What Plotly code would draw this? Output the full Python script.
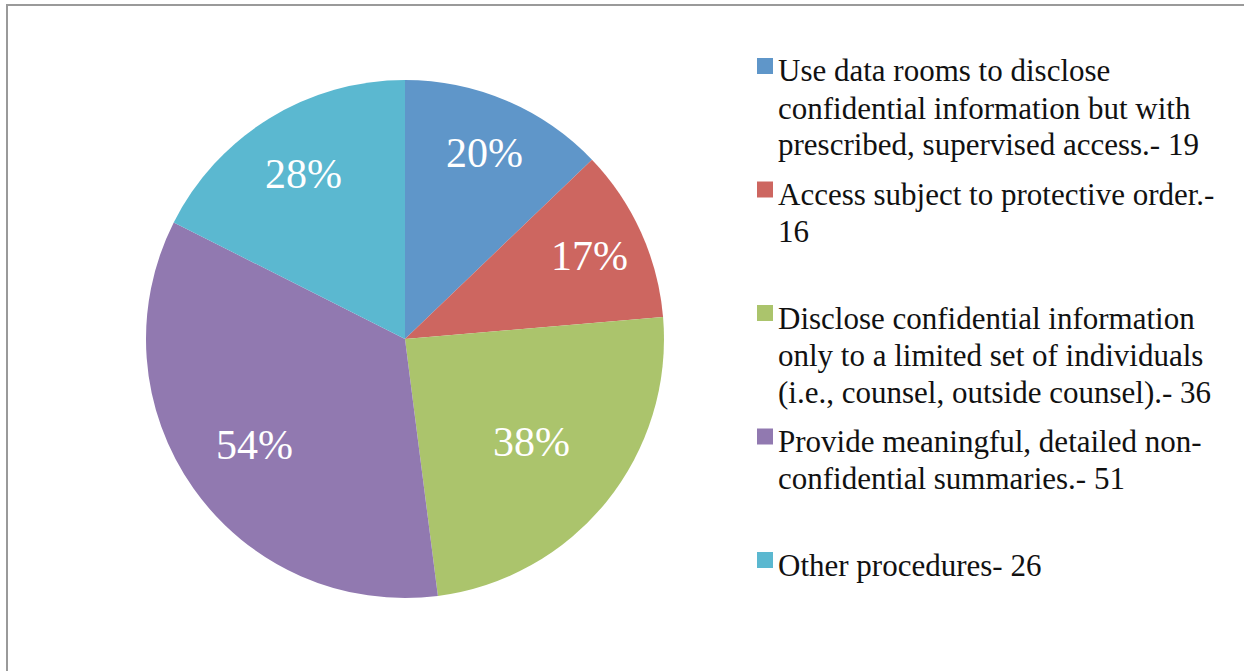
import math
import plotly.graph_objects as go

# ---- data ----
categories = [
    "Use data rooms to disclose confidential information but with prescribed, supervised access.",
    "Access subject to protective order.",
    "Disclose confidential information only to a limited set of individuals (i.e., counsel, outside counsel).",
    "Provide meaningful, detailed non-confidential summaries.",
    "Other procedures",
]
counts = [19, 16, 36, 51, 26]
pct_labels = ["20%", "17%", "38%", "54%", "28%"]
legend_lines = [
    ["Use data rooms to disclose", "confidential information but with", "prescribed, supervised access.- 19"],
    ["Access subject to protective order.-", "16"],
    ["Disclose confidential information", "only to a limited set of individuals", "(i.e., counsel, outside counsel).- 36"],
    ["Provide meaningful, detailed non-", "confidential summaries.- 51"],
    ["Other procedures- 26"],
]
colors = ["#5F96C9", "#CD6660", "#ABC46C", "#9179B0", "#5BB8D0"]

# label placement (style): radial fraction of the radius for each data label
label_radius = [0.78, 0.78, 0.63, 0.71, 0.75]

W, H = 1244, 671
FONT = "Liberation Serif, Tinos, Times New Roman, serif"

def px_x(x):
    return x / W

def px_y(y):
    return 1 - y / H

cx, cy, R = 405, 339, 259

fig = go.Figure()
fig.add_trace(go.Pie(
    labels=categories,
    values=counts,
    textinfo="none",
    marker=dict(colors=colors, line=dict(width=0)),
    sort=False,
    direction="clockwise",
    rotation=0,
    showlegend=False,
    hoverinfo="label+value",
    domain=dict(x=[px_x(cx - R), px_x(cx + R)], y=[px_y(cy + R), px_y(cy - R)]),
))

annotations = []
shapes = []

# data labels at slice mid-angles
total = sum(counts)
cum = 0
for i, v in enumerate(counts):
    mid = (cum + v / 2) / total * 2 * math.pi
    cum += v
    r = label_radius[i] * R
    lx = cx + r * math.sin(mid)
    ly = cy - r * math.cos(mid)
    annotations.append(dict(
        xref="paper", yref="paper", x=px_x(lx), y=px_y(ly),
        xanchor="center", yanchor="middle", showarrow=False,
        text=pct_labels[i], font=dict(family=FONT, size=42, color="white")))

# legend
entry_top0 = 58      # top of first legend square
entry_step = 123.5   # spacing of legend entries
line_step = 37       # spacing of text lines
sq = 16
for i, lines in enumerate(legend_lines):
    top = entry_top0 + i * entry_step
    shapes.append(dict(type="rect", xref="paper", yref="paper",
                       x0=px_x(757), x1=px_x(757 + sq), y0=px_y(top + sq), y1=px_y(top),
                       fillcolor=colors[i], line=dict(width=0)))
    for j, ln in enumerate(lines):
        base = top + 23 + j * line_step  # baseline
        annotations.append(dict(
            xref="paper", yref="paper", x=px_x(776), y=px_y(base - 10),
            xanchor="left", yanchor="middle", showarrow=False, align="left",
            text=ln, font=dict(family=FONT, size=31, color="#111111")))

# outer chart border
shapes.append(dict(type="rect", xref="paper", yref="paper",
                   x0=px_x(7), x1=1.2, y0=-0.2, y1=px_y(5),
                   line=dict(color="#9a9a9a", width=2), fillcolor="rgba(0,0,0,0)"))

fig.update_layout(
    width=W, height=H,
    margin=dict(l=0, r=0, t=0, b=0),
    paper_bgcolor="white", plot_bgcolor="white",
    annotations=annotations, shapes=shapes,
    font=dict(family=FONT),
)

fig.write_html("out.html", config={"displayModeBar": False},
               post_script="document.body.style.margin='0';")
